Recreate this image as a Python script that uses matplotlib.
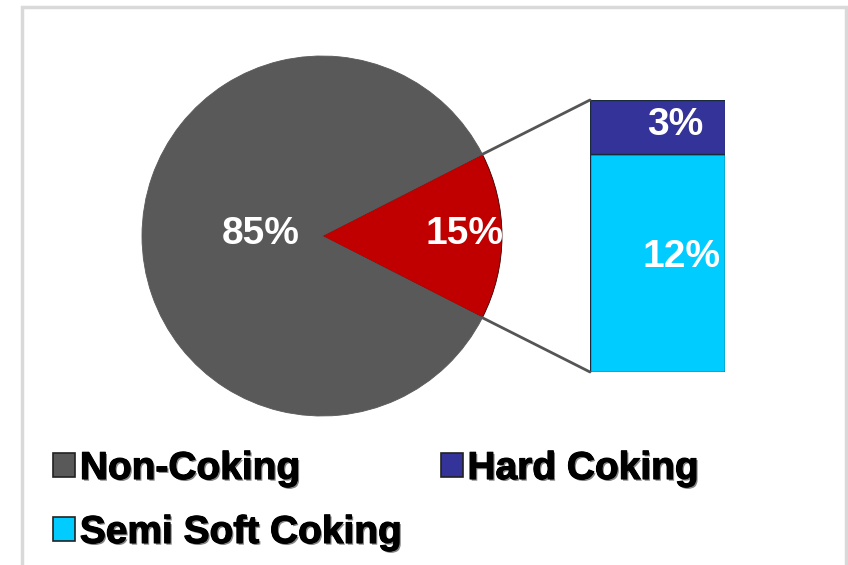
import matplotlib
matplotlib.use("Agg")
import matplotlib.pyplot as plt
from matplotlib.patches import Patch, Rectangle, ConnectionPatch
import matplotlib.patheffects as pe
import numpy as np

plt.rcParams['font.family'] = ['Liberation Sans', 'DejaVu Sans']

# ---- data ----
pie_labels = ["Coking", "Non-Coking"]
pie_values = [15, 85]
pie_colors = ["#C00000", "#595959"]

bar_labels = ["Semi Soft Coking", "Hard Coking"]
bar_values = [12, 3]
bar_colors = ["#00CCFF", "#333399"]

legend_labels = ["Non-Coking", "Hard Coking", "Semi Soft Coking"]

W, H = 848, 565
fig = plt.figure(figsize=(W / 100, H / 100), dpi=100)
fig.patch.set_facecolor("white")

def fbox(x0, y0, x1, y1):
    return [x0 / W, 1 - y1 / H, (x1 - x0) / W, (y1 - y0) / H]

# border frame
fig.patches.append(Rectangle((21.5 / W, -0.05), (846 - 21.5) / W, (1 - 6.5 / H) + 0.05,
                             transform=fig.transFigure, fill=False,
                             edgecolor="#d9d9d9", linewidth=2.5))

# ---- pie ----
cx, cy, r = 322, 236, 180
ax1 = fig.add_axes(fbox(cx - r, cy - r, cx + r, cy + r))
start = -pie_values[0] / sum(pie_values) * 360 / 2
wedges, _ = ax1.pie(pie_values, colors=pie_colors, startangle=start,
                    counterclock=True, radius=1,
                    wedgeprops=dict(linewidth=0.6, edgecolor="#3a0000"))
wedges[1].set_edgecolor("#595959")
ax1.set_xlim(-1, 1)
ax1.set_ylim(-1, 1)
ax1.set_aspect("equal")
ax1.axis("off")

label_dist = [0.79, 0.34]
for w, v, d in zip(wedges, pie_values, label_dist):
    ang = np.deg2rad((w.theta1 + w.theta2) / 2)
    ax1.text(d * np.cos(ang), d * np.sin(ang) + 0.01, f"{v}%", ha="center", va="center",
             color="white", fontsize=28, fontweight="bold")

# ---- stacked bar ----
ax2 = fig.add_axes(fbox(590, 100, 725, 372))
bottom = 0
for v, c in zip(bar_values, bar_colors):
    ax2.bar(0, v, bottom=bottom, width=1, color=c, edgecolor="#1a2a3a", linewidth=1.0)
    bottom += v
ax2.set_xlim(-0.5, 0.5)
ax2.set_ylim(0, sum(bar_values))
ax2.axis("off")

ax2.text(0.13, bar_values[0] + bar_values[1] / 2 + 0.1, f"{bar_values[1]}%", ha="center",
         va="center", color="white", fontsize=28, fontweight="bold")
ax2.text(0.18, bar_values[0] / 2 + 0.35, f"{bar_values[0]}%", ha="center",
         va="center", color="white", fontsize=28, fontweight="bold")

# connector lines
t1 = np.deg2rad(wedges[0].theta2)
t2 = np.deg2rad(wedges[0].theta1)
for th, ybar in [(t1, sum(bar_values)), (t2, 0)]:
    con = ConnectionPatch(xyA=(np.cos(th), np.sin(th)), coordsA=ax1.transData,
                          xyB=(-0.5, ybar), coordsB=ax2.transData,
                          color="#555555", linewidth=2)
    fig.add_artist(con)

# ---- legend ----
handle_map = {"Non-Coking": pie_colors[1], "Hard Coking": bar_colors[1],
              "Semi Soft Coking": bar_colors[0]}
order = ["Non-Coking", "Semi Soft Coking", "Hard Coking"]
handles = [Patch(facecolor=handle_map[l], edgecolor="#222222", linewidth=1.2, label=l)
           for l in order]
leg = fig.legend(handles=handles, ncol=2, loc="upper left",
                 bbox_to_anchor=(53 / W, 1 - 451 / H), frameon=False,
                 prop=dict(size=28, weight="bold"),
                 handlelength=0.57, handleheight=0.57, handletextpad=0.12,
                 columnspacing=1.0, labelspacing=0.72, borderpad=0, borderaxespad=0)
for t in leg.get_texts():
    t.set_path_effects([pe.withSimplePatchShadow(offset=(1.2, -1.2),
                                                 shadow_rgbFace="#333333", alpha=0.6),
                        pe.withStroke(linewidth=0.8, foreground="black")])

fig.savefig("out.png", dpi=100, facecolor="white")
